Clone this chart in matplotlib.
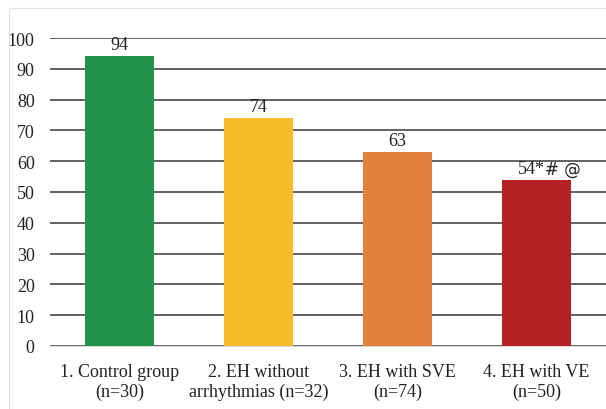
import matplotlib.pyplot as plt
import numpy as np
from matplotlib.patches import Rectangle

categories = ["1. Control group\n(n=30)", "2. EH without\narrhythmias (n=32)",
              "3. EH with SVE\n(n=74)", "4. EH with VE\n(n=50)"]
values = [94, 74, 63, 54]
value_labels = ["94", "74", "63", "54"]
colors = ["#23934c", "#f5bb29", "#e47f3e", "#b52226"]

plt.rcParams["font.family"] = ["Liberation Serif", "DejaVu Serif"]

fig = plt.figure(figsize=(6.06, 4.10), dpi=100)
ax = fig.add_axes([50 / 606, 1 - 347 / 410, 556 / 606, 308 / 410])

# outer chart frame (runs off the right and bottom edges)
fig.patches.append(Rectangle((9 / 606, -0.05), 1.2, 1 - 9 / 410 + 0.05, transform=fig.transFigure,
                             fill=False, edgecolor="#e3e3e3", linewidth=0.8))

x = np.arange(len(values))
ax.bar(x, values, width=0.5, color=colors, zorder=3)

ax.set_ylim(0, 100)
ax.set_xlim(-0.5, 3.5)
ax.set_yticks(range(0, 101, 10))
ax.yaxis.grid(True, color="#555555", linewidth=1.3, zorder=0)
ax.set_axisbelow(True)
ax.tick_params(axis="both", length=0, labelsize=13, colors="#222222")
ax.tick_params(axis="y", pad=11)
ax.tick_params(axis="x", pad=12)
ax.set_xticks(x)
ax.set_xticklabels(categories, fontsize=13)
for s in ["top", "right", "left"]:
    ax.spines[s].set_visible(False)
ax.spines["bottom"].set_color("#d9d9d9")

for i, (v, lab) in enumerate(zip(values, value_labels)):
    if i == 3:
        ax.text(i - 0.04, v + 1.0, "54*", ha="center", va="bottom", fontsize=13, color="#222222")
        ax.text(i + 0.19, v + 0.5, "# @", ha="center", va="bottom", fontsize=12,
                color="#222222", family=["DejaVu Sans"])
    else:
        ax.text(i, v + 1.0, lab, ha="center", va="bottom", fontsize=13, color="#222222")

fig.savefig("out.png", dpi=100)
